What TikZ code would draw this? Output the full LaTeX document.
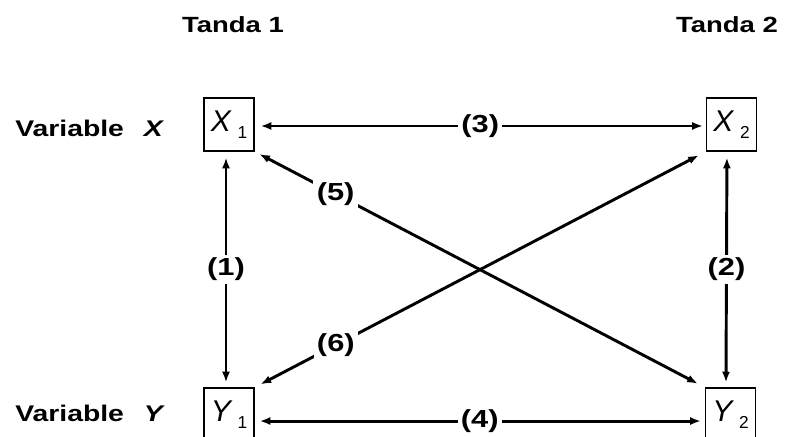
\documentclass[tikz,border=0pt]{standalone}
\usepackage{fontspec}
\setmainfont{Liberation Sans}
\newfontfamily\wide[FakeStretch=1.25]{Liberation Sans}
\usetikzlibrary{arrows.meta,calc}
\begin{document}
\begin{tikzpicture}[x=0.75pt,y=-0.75pt,
  box/.style={draw,line width=0.9pt,minimum width=37.5pt,minimum height=39.75pt,inner sep=0pt},
  conn/.style={line width=2.2pt,{Latex[length=8pt,width=6pt]}-{Latex[length=8pt,width=6pt]}},
  num/.style={font=\wide\bfseries\fontsize{18.5}{18.5}\selectfont,fill=white,inner sep=2.5pt},
  head/.style={font=\wide\bfseries\fontsize{16.5}{16.5}\selectfont,inner sep=0pt},
  varlab/.style={font=\wide\bfseries\fontsize{17}{17}\selectfont,inner sep=0pt,anchor=west}]
\useasboundingbox (0,0) rectangle (786,436);
\newcommand{\boxtxt}[2]{{\fontsize{22.5}{22.5}\selectfont\itshape #1}\hspace{5pt}\raisebox{-5.25pt}{\fontsize{13}{13}\selectfont #2}}
\node[head] (t1) at (233,25) {Tanda 1};
\node[head] (t2) at (727,25) {Tanda 2};
\node[varlab] (vx) at (15,128) {Variable\hspace{15pt}\textit{X}};
\node[varlab] (vy) at (15,413) {Variable\hspace{15pt}\textit{Y}};
\node[box] (x1) at (229,124.5) {\boxtxt{X}{1}};
\node[box] (x2) at (731.5,124.5) {\boxtxt{X}{2}};
\node[box] (y1) at (229,414.5) {\boxtxt{Y}{1}};
\node[box] (y2) at (730.5,414.5) {\boxtxt{Y}{2}};
\draw[conn,shorten <=4.5pt,shorten >=2.25pt] ([yshift=-1.1pt]x1.east) -- node[num]{(3)} ([yshift=-1.1pt]x2.west);
\draw[conn,shorten <=3.75pt,shorten >=3pt] ([yshift=-4.9pt]y1.east) -- node[num]{(4)} ([yshift=-4.9pt]y2.west);
\draw[conn,shorten <=4.5pt,shorten >=3.75pt] ([xshift=-2.25pt]x1.south) -- node[num]{(1)} ([xshift=-2.25pt]y1.north);
\draw[conn,shorten <=4.5pt,shorten >=3.75pt] ([xshift=-3.4pt]x2.south) -- node[num]{(2)} ([xshift=-3.4pt]y2.north);
\draw[conn,shorten <=4pt,shorten >=6pt] (x1.south east) -- node[num,pos=0.18]{(5)} (y2.north west);
\draw[conn,shorten <=6pt,shorten >=5pt] (x2.south west) -- node[num,pos=0.82]{(6)} (y1.north east);
\end{tikzpicture}
\end{document}
